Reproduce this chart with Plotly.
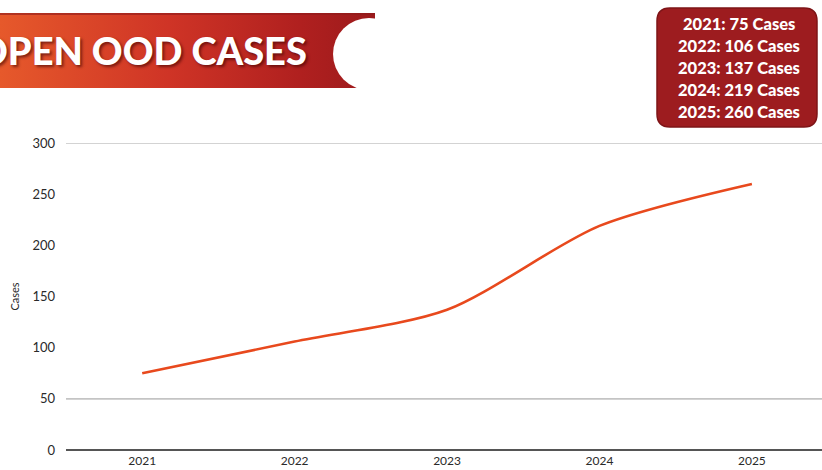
import base64
import plotly.graph_objects as go

years = [2021, 2022, 2023, 2024, 2025]
cases = [75, 106, 137, 219, 260]
y_ticks = [0, 50, 100, 150, 200, 250, 300]
grid_values = [50, 300]
title_text = "OPEN OOD CASES"
legend_lines = [f"{y}: {c} Cases" for y, c in zip(years, cases)]

W, H = 822, 470
L, R, T, B = 66, 0, 143, 20
pw, ph = W - L - R, H - T - B


def px(x):
    return (x - L) / pw


def py(y):
    return (H - B - y) / ph


fig = go.Figure()
fig.add_trace(go.Scatter(
    x=years, y=cases, mode="lines",
    line=dict(color="#e8491d", width=2.6, shape="spline", smoothing=0.8),
    hoverinfo="x+y", showlegend=False,
))

# banner background (gradient + white circle cut)
svg = """<svg xmlns='http://www.w3.org/2000/svg' width='380' height='78' viewBox='0 0 380 78'>
<defs><linearGradient id='g' x1='0' y1='0' x2='1' y2='0'>
<stop offset='0' stop-color='#e6592b'/><stop offset='0.45' stop-color='#cf3426'/>
<stop offset='0.8' stop-color='#b0201f'/><stop offset='1' stop-color='#9c1a1c'/></linearGradient></defs>
<rect x='0' y='2' width='375' height='75' fill='url(#g)'/>
<rect x='0' y='2' width='375' height='2' fill='#8e1a1a' opacity='0.6'/>
<circle cx='369' cy='43' r='36' fill='white'/>
</svg>"""
src = "data:image/svg+xml;base64," + base64.b64encode(svg.encode()).decode()
fig.add_layout_image(dict(
    source=src, xref="paper", yref="paper", x=px(0), y=py(11),
    sizex=380 / pw, sizey=78 / ph, xanchor="left", yanchor="top",
    sizing="stretch", layer="below",
))

fig.add_annotation(
    text=title_text, xref="paper", yref="paper", x=px(309), y=py(50),
    xanchor="right", yanchor="middle", showarrow=False,
    font=dict(family="Lato", size=38, color="white", weight=900,
              shadow="2px 2px 3px rgba(60,0,0,0.6)"),
)

# legend box
x0, x1, y0, y1, r = 657, 817, 8, 127, 13
rx, ry = r / pw, r / ph
X0, X1, Y0, Y1 = px(x0), px(x1), py(y1), py(y0)
path = (f"M {X0+rx},{Y1} L {X1-rx},{Y1} Q {X1},{Y1} {X1},{Y1-ry} "
        f"L {X1},{Y0+ry} Q {X1},{Y0} {X1-rx},{Y0} L {X0+rx},{Y0} "
        f"Q {X0},{Y0} {X0},{Y0+ry} L {X0},{Y1-ry} Q {X0},{Y1} {X0+rx},{Y1} Z")
fig.add_shape(type="path", path=path, xref="paper", yref="paper",
              fillcolor="#9d1c1f", line=dict(color="#7e1417", width=1.5))
for i, line in enumerate(legend_lines):
    fig.add_annotation(
        text=line, xref="paper", yref="paper", x=px(739), y=py(24 + i * 22),
        xanchor="center", yanchor="middle", showarrow=False,
        font=dict(family="Lato", size=16.5, color="white", weight=900),
    )

for g in grid_values:
    fig.add_shape(type="line", xref="paper", yref="y", x0=0, x1=1, y0=g, y1=g,
                  line=dict(color="#c4c4c4", width=1.6), layer="below")

fig.update_layout(
    width=W, height=H, margin=dict(l=L, r=R, t=T, b=B),
    paper_bgcolor="white", plot_bgcolor="white",
    font=dict(family="Lato", color="#2a2a2a"),
    xaxis=dict(range=[2020.5, 2025.46], tickvals=years, ticktext=[str(y) for y in years],
               showgrid=False, zeroline=False, showline=False, ticks="",
               tickfont=dict(size=12, color="#2a2a2a"), ticklabelstandoff=2),
    yaxis=dict(range=[0, 300], tickvals=y_ticks, showgrid=False,
               zeroline=True, zerolinecolor="#555555", zerolinewidth=2.2,
               showline=False, ticks="", tickfont=dict(size=13, color="#2a2a2a"),
               ticklabelstandoff=10,
               title=dict(text="Cases", font=dict(size=11, color="#2a2a2a"), standoff=10)),
)

fig.write_html("out.html")
